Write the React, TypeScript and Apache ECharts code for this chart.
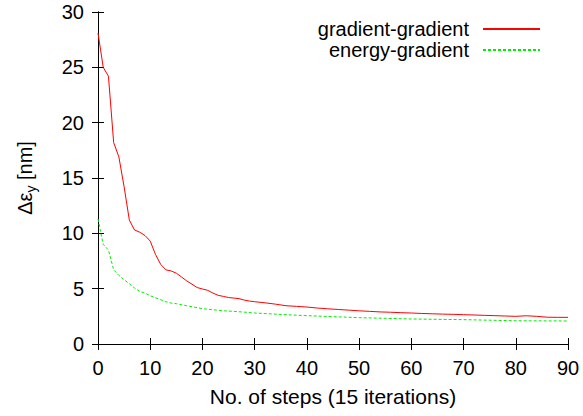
import React, { useEffect, useRef } from "react";
import * as echarts from "echarts";

const xTicks = [0, 10, 20, 30, 40, 50, 60, 70, 80, 90];
const yTicks = [0, 5, 10, 15, 20, 25, 30];

const gradSteps = [0, 1, 2, 3, 4, 5, 6, 7, 8, 9, 10, 11, 12, 13, 14, 15, 16, 17, 18, 19, 20, 21, 22, 23, 24, 25, 26, 27, 28, 29, 30, 32, 34, 36, 38, 40, 42, 44, 46, 48, 50, 52, 54, 56, 58, 60, 62, 64, 66, 68, 70, 72, 74, 76, 78, 80, 82, 84, 86, 88, 90];
const gradValues = [28.1, 25.0, 24.2, 18.2, 16.9, 14.2, 11.2, 10.3, 10.1, 9.8, 9.3, 8.1, 7.2, 6.7, 6.6, 6.4, 6.05, 5.7, 5.4, 5.1, 4.97, 4.85, 4.6, 4.4, 4.3, 4.2, 4.15, 4.1, 3.97, 3.88, 3.82, 3.72, 3.6, 3.46, 3.4, 3.34, 3.25, 3.18, 3.12, 3.06, 3.0, 2.95, 2.9, 2.87, 2.83, 2.8, 2.76, 2.73, 2.7, 2.68, 2.65, 2.62, 2.59, 2.56, 2.53, 2.5, 2.55, 2.5, 2.42, 2.41, 2.41];

const energySteps = [0, 1, 2, 3, 4, 5, 6, 7, 8, 9, 10, 11, 12, 13, 14, 15, 16, 17, 18, 19, 20, 22, 24, 26, 28, 30, 32, 34, 36, 38, 40, 45, 50, 55, 60, 65, 70, 75, 80, 85, 90];
const energyValues = [11.3, 9.0, 8.5, 6.7, 6.2, 5.8, 5.45, 5.06, 4.75, 4.6, 4.36, 4.18, 4.0, 3.82, 3.7, 3.64, 3.55, 3.46, 3.37, 3.28, 3.19, 3.1, 3.0, 2.95, 2.88, 2.8, 2.75, 2.7, 2.65, 2.6, 2.56, 2.47, 2.38, 2.32, 2.26, 2.23, 2.2, 2.15, 2.1, 2.09, 2.08];

const seriesNames = ["gradient-gradient", "energy-gradient"];
const xName = "No. of steps (15 iterations)";

const FONT = "Liberation Sans, Arial, Helvetica, sans-serif";

export default function App() {
  const ref = useRef<HTMLDivElement>(null);
  useEffect(() => {
    if (!ref.current) return;
    const chart = echarts.init(ref.current, undefined, { renderer: "svg" });
    const axisLine = { show: true, lineStyle: { color: "#000", width: 1 } };
    const tick = { show: true, inside: true, length: 6, lineStyle: { color: "#000", width: 1 } };
    chart.setOption({
      animation: false,
      backgroundColor: "#fff",
      textStyle: { fontFamily: FONT },
      grid: { left: 98, right: 15, top: 12, bottom: 72, containLabel: false },
      legend: {
        orient: "vertical",
        right: 42,
        top: 19,
        align: "right",
        itemWidth: 57,
        itemHeight: 14,
        itemGap: 1,
        padding: 0,
        itemStyle: { opacity: 0, borderWidth: 0 },
        textStyle: { fontSize: 20, color: "#000", fontFamily: FONT, lineHeight: 20, padding: [0, 9, 0, 0] },
        data: seriesNames,
      },
      xAxis: [
        {
          type: "value",
          min: 0,
          max: 90,
          interval: 10,
          position: "bottom",
          axisLine,
          axisTick: tick,
          splitLine: { show: false },
          axisLabel: { fontSize: 20, color: "#000", margin: 14, fontFamily: FONT, customValues: xTicks },
          name: xName,
          nameLocation: "middle",
          nameGap: 42,
          nameTextStyle: { fontSize: 21, color: "#000", fontFamily: FONT },
        },
        {
          type: "value",
          min: 0,
          max: 90,
          interval: 10,
          position: "top",
          axisLine,
          axisTick: tick,
          splitLine: { show: false },
          axisLabel: { show: false },
        },
      ],
      yAxis: [
        {
          type: "value",
          min: 0,
          max: 30,
          interval: 5,
          position: "left",
          axisLine,
          axisTick: tick,
          splitLine: { show: false },
          axisLabel: { fontSize: 20, color: "#000", margin: 14, fontFamily: FONT, customValues: yTicks },
          name: "Δε{s|y} [nm]",
          nameLocation: "middle",
          nameRotate: 90,
          nameGap: 60,
          nameTextStyle: {
            fontSize: 20,
            color: "#000",
            fontFamily: FONT,
            rich: {
              s: { fontSize: 14, fontFamily: FONT, color: "#000", verticalAlign: "bottom", padding: [12, 0, 0, 0] },
            },
          },
        },
        {
          type: "value",
          min: 0,
          max: 30,
          interval: 5,
          position: "right",
          axisLine,
          axisTick: tick,
          splitLine: { show: false },
          axisLabel: { show: false },
        },
      ],
      series: [
        {
          name: seriesNames[0],
          type: "line",
          data: gradSteps.map((s, i) => [s, gradValues[i]]),
          showSymbol: false,
          symbol: "none",
          lineStyle: { color: "#ff0000", width: 1 },
          itemStyle: { color: "#ff0000" },
        },
        {
          name: seriesNames[1],
          type: "line",
          data: energySteps.map((s, i) => [s, energyValues[i]]),
          showSymbol: false,
          symbol: "none",
          lineStyle: { color: "#00ee00", width: 1, type: [3, 2] },
          itemStyle: { color: "#00ee00" },
        },
      ],
    });
    return () => chart.dispose();
  }, []);
  return <div ref={ref} style={{ width: 583, height: 416, position: "fixed", left: 0, top: 0 }} />;
}
